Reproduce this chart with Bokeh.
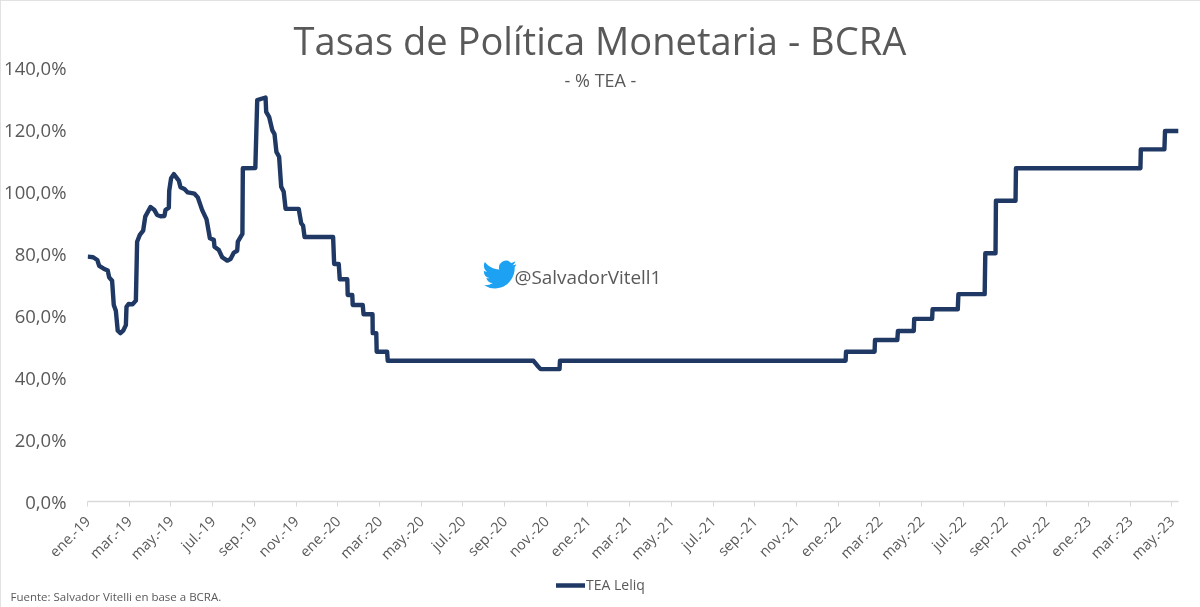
from bokeh.plotting import figure
from bokeh.embed import file_html
from bokeh.resources import INLINE
from bokeh.models import Label, Legend, LegendItem, FixedTicker, Range1d, ColumnDataSource, Title
import base64, math

months = [.01,.27,.47,.56,.78,.97,1.04,1.18,1.26,1.36,1.45,1.58,1.71,1.84,1.87,1.97,2.16,2.32,2.38,2.51,2.67,2.77,3.02,3.21,3.34,3.50,3.69,3.74,3.90,3.92,4.01,4.14,4.38,4.46,4.65,4.81,5.13,5.29,5.50,5.71,5.87,6.06,6.09,6.30,6.46,6.70,6.86,7.02,7.18,7.21,7.43,7.45,8.05,8.14,8.38,8.54,8.57,8.71,8.86,8.97,9.06,9.19,9.29,9.41,9.50,10.13,10.25,10.34,10.41,11.78,11.83,12.05,12.10,12.46,12.48,12.70,12.72,13.20,13.24,13.67,13.68,13.85,13.87,14.37,14.40,21.39,21.58,21.73,22.64,22.66,36.36,36.38,37.75,37.77,38.84,38.87,39.63,39.65,40.51,40.53,41.74,41.77,43.03,43.06,43.55,43.57,44.51,44.53,50.50,50.52,51.65,51.68,52.33]
tea_leliq = [79.0,78.8,77.9,76.0,75.1,74.5,72.3,71.2,63.4,61.5,55.1,54.3,55.1,56.9,62.8,63.7,63.6,64.8,83.8,86.0,87.4,91.9,95.0,94.0,92.4,92.0,92.1,94.0,94.8,100.3,104.3,105.6,103.5,101.4,100.8,99.7,99.3,98.1,94.0,91.0,84.9,84.4,82.2,81.1,78.8,77.7,78.2,80.3,80.9,83.8,86.3,107.5,107.6,129.5,130.0,130.3,125.7,124.1,119.8,118.5,112.8,111.2,101.5,99.9,94.4,94.4,89.7,89.0,85.3,85.3,76.6,76.6,71.7,71.7,66.6,66.6,63.4,63.4,60.4,60.4,54.3,54.3,48.3,48.3,45.4,45.4,43.8,42.7,42.7,45.4,45.4,48.3,48.3,52.1,52.1,55.0,55.0,58.9,58.9,62.0,62.0,66.9,66.9,80.1,80.1,97.0,97.0,107.5,107.5,113.6,113.6,119.5,119.5]
tick_labels = ["ene.-19","mar.-19","may.-19","jul.-19","sep.-19","nov.-19","ene.-20","mar.-20","may.-20","jul.-20","sep.-20","nov.-20","ene.-21","mar.-21","may.-21","jul.-21","sep.-21","nov.-21","ene.-22","mar.-22","may.-22","jul.-22","sep.-22","nov.-22","ene.-23","mar.-23","may.-23"]
y_ticks = [0,20,40,60,80,100,120,140]

GRAY = "#595959"
FONT = "Open Sans"
LINE = "#1F3864"

px_per_month = 20.85
frame_left, frame_right, frame_top, frame_bottom = 87, 1178, 67, 501

p = figure(width=1200, height=607, output_backend="svg", toolbar_location=None,
           frame_width=frame_right-frame_left, frame_height=frame_bottom-frame_top,
           x_range=Range1d(0, (frame_right-frame_left)/px_per_month), y_range=Range1d(0, 140),
           min_border_left=frame_left, min_border_right=1200-frame_right,
           min_border_top=frame_top, min_border_bottom=607-frame_bottom,
           outline_line_color=None, background_fill_color="white", border_fill_color="white")
p.styles = {"position": "fixed", "left": "0", "top": "0", "outline": "2px solid #d9d9d9", "outline-offset": "-2px"}
p.grid.visible = False

ax = p.xaxis[0]
ax.ticker = FixedTicker(ticks=[i*2 for i in range(len(tick_labels))])
ax.major_label_overrides = {i*2: t for i, t in enumerate(tick_labels)}
ax.major_label_orientation = math.pi/4
ax.major_label_text_font = FONT
ax.major_label_text_font_size = "14.5px"
ax.major_label_text_color = GRAY
ax.major_label_standoff = 12
ax.axis_line_color = "#d9d9d9"
ax.axis_line_width = 1.5
ax.major_tick_line_color = "#d9d9d9"
ax.major_tick_in = 0
ax.major_tick_out = 5
ax.minor_tick_line_color = None

ay = p.yaxis[0]
ay.ticker = FixedTicker(ticks=y_ticks)
ay.major_label_overrides = {v: f"{v},0%" for v in y_ticks}
ay.major_label_text_font = FONT
ay.major_label_text_font_size = "18.5px"
ay.major_label_text_color = GRAY
ay.major_label_standoff = 21
ay.major_tick_out = 0
ay.major_tick_in = 0
ay.axis_line_color = None
ay.major_tick_line_color = None
ay.minor_tick_line_color = None

src = ColumnDataSource(dict(x=months, y=tea_leliq))
p.line("x", "y", source=src, line_color=LINE, line_width=4.4, line_join="round")

def to_month(px): return (px-frame_left)/px_per_month
def to_val(py): return (frame_bottom-py)*140/(frame_bottom-frame_top)

p.add_layout(Title(text="Tasas de Política Monetaria - BCRA", text_font=FONT, text_font_style="normal",
                   text_font_size="38.1px", text_color=GRAY, align="left", offset=206, standoff=3), "above")
p.add_layout(Label(x=to_month(600), y=to_val(79), text="- % TEA -", text_font=FONT,
                   text_font_size="18px", text_color=GRAY, text_align="center", text_baseline="middle"))
p.add_layout(Label(x=to_month(514), y=to_val(276), text="@SalvadorVitell1", text_font=FONT,
                   text_font_size="18.9px", text_color=GRAY, text_align="left", text_baseline="middle"))

bird = ('<svg xmlns="http://www.w3.org/2000/svg" viewBox="0 0 24 24"><path fill="#1DA1F2" d="M23.953 4.57a10 10 0 01-2.825.775 '
        '4.958 4.958 0 002.163-2.723c-.951.555-2.005.959-3.127 1.184a4.92 4.92 0 00-8.384 4.482C7.69 8.095 4.067 6.13 1.64 3.162a4.822 '
        '4.822 0 00-.666 2.475c0 1.71.87 3.213 2.188 4.096a4.904 4.904 0 01-2.228-.616v.06a4.923 4.923 0 003.946 4.827 4.996 4.996 0 '
        '01-2.212.085 4.936 4.936 0 004.604 3.417 9.867 9.867 0 01-6.102 1.51 13.995 13.995 0 007.557 2.209c9.053 0 13.998-7.496 '
        '13.998-14.005 0-.21 0-.42-.015-.63A9.935 9.935 0 0024 4.59z"/></svg>')
uri = "data:image/svg+xml;base64," + base64.b64encode(bird.encode()).decode()
p.image_url(url=[uri], x=to_month(482), y=to_val(257), w=34, h=35, w_units="screen", h_units="screen", anchor="top_left")

# footer strip holding the legend and the source note
foot_left, foot_top, foot_w, foot_h = 2, 570, 1196, 34
foot = figure(width=foot_w, height=foot_h, output_backend="svg", toolbar_location=None,
              x_range=Range1d(0, foot_w), y_range=Range1d(foot_h, 0),
              x_axis_location=None, y_axis_location=None, min_border=0,
              outline_line_color=None, background_fill_color=None, border_fill_color=None)
foot.styles = {"position": "fixed", "left": f"{foot_left}px", "top": f"{foot_top}px"}
foot.grid.visible = False
# the series itself, whose values lie outside this strip's range: only its legend key shows
key = foot.line(months, tea_leliq, line_color=LINE, line_width=4.4, line_cap="round")
foot.add_layout(Legend(items=[LegendItem(label="TEA Leliq", renderers=[key])],
                       location=(554, 10), border_line_color=None, background_fill_alpha=0,
                       glyph_width=29, glyph_height=14, label_text_font=FONT, label_text_font_size="14px",
                       label_text_color=GRAY, padding=4, margin=0, label_standoff=1), "center")
foot.add_layout(Label(x=10-foot_left, y=596-foot_top, text="Fuente: Salvador Vitelli en base a BCRA.", text_font=FONT,
                      text_font_size="11.5px", text_color=GRAY, text_align="left", text_baseline="middle"))

open("out.html", "w").write(file_html([p, foot], INLINE))
